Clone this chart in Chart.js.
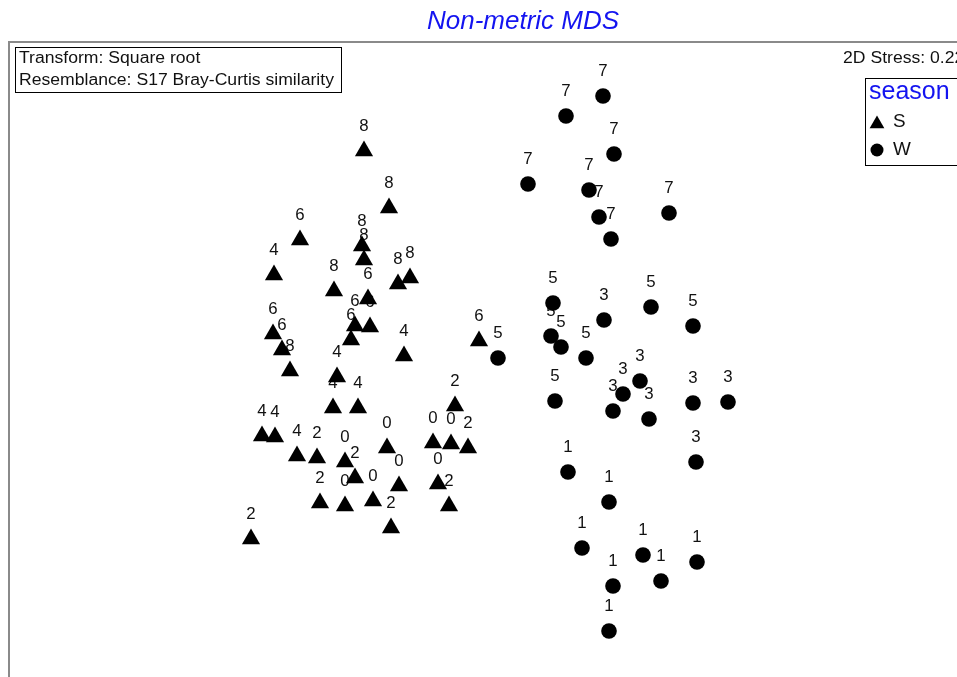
<!DOCTYPE html>
<html>
<head>
<meta charset="utf-8">
<script src="https://cdn.jsdelivr.net/npm/chart.js@4/dist/chart.umd.min.js"></script>
<style>
  body { margin:0; background:#fff; }
  #wrap { width:957px; height:677px; }
</style>
</head>
<body>
<div id="wrap"><canvas id="mds" width="957" height="677"></canvas></div>
<script>
// --------------------
// DATA (MDS coordinates, label = sample group)
// --------------------
// season S (triangles)
const sMds1 = [-1.16,-0.91,-1.80,-2.06,-1.18,-1.16,-1.46,-0.82,-0.70,-1.12,
               -1.25,-1.10,-1.29,-2.07,-1.98,-1.90,-0.76,-0.01,-1.43,-1.47,
               -1.22,-0.25,-2.18,-2.05,-1.83,-1.63,-1.35,-1.25,-0.93,-0.47,
               -0.29,-0.12,-0.81,-1.07,-1.60,-1.35,-0.42,-0.31,-0.89,-2.29];
const sMds2 = [ 2.09, 1.52, 1.20, 0.85, 1.14, 1.00, 0.69, 0.76, 0.82, 0.61,
                0.34, 0.33, 0.20, 0.26, 0.10,-0.11, 0.04, 0.19,-0.17,-0.48,
               -0.48,-0.46,-0.76,-0.77,-0.96,-0.98,-1.02,-1.18,-0.88,-0.83,
               -0.84,-0.88,-1.26,-1.41,-1.43,-1.46,-1.24,-1.46,-1.68,-1.79];
const sTags = ['8','8','6','4','8','8','8','8','8','6',
               '6','6','6','6','6','8','4','6','4','4',
               '4','2','4','4','4','2','0','2','0','0',
               '0','2','0','0','2','0','0','2','2','2'];

// season W (circles)
const wMds1 = [1.23,0.86,1.34,0.48,1.09,1.19,1.31,1.89,
               0.73,1.24,1.71,2.13,0.18,0.71,0.81,1.06,0.75,
               1.60,1.43,1.33,1.69,2.13,2.48,2.16,
               0.88,1.29,1.02,1.63,1.81,2.17,1.33,1.29];
const wMds2 = [2.64,2.44,2.06,1.76,1.70,1.43,1.21,1.47,
               0.57,0.40,0.53,0.34,0.02,0.24,0.13,0.02,-0.41,
               -0.21,-0.34,-0.51,-0.59,-0.43,-0.42,-1.02,
               -1.12,-1.42,-1.88,-1.95,-2.21,-2.02,-2.26,-2.71];
const wTags = ['7','7','7','7','7','7','7','7',
               '5','3','5','5','5','5','5','5','5',
               '3','3','3','3','3','3','3',
               '1','1','1','1','1','1','1','1'];

const seasons = ['S','W'];
const titleText = 'Non-metric MDS';
const noteLines = ['Transform: Square root','Resemblance: S17 Bray-Curtis similarity'];
const stressText = '2D Stress: 0.22';

function pts(xs, ys){ return xs.map((x,i)=>({x:x, y:ys[i]})); }

const FONT = '"Liberation Sans", Arial, sans-serif';
const BLUE = '#1414f0';

// text drawn slightly wide, like the original export
function wideText(ctx, txt, x, y, sx){
  ctx.save(); ctx.translate(x, y); ctx.scale(sx, 1); ctx.fillText(txt, 0, 0); ctx.restore();
}

// --------------------
// OVERLAY: frame, point labels, title, notes, legend
// --------------------
const overlay = {
  id:'overlay',
  beforeDatasetsDraw(chart){
    const ctx = chart.ctx, a = chart.chartArea;
    ctx.save();
    ctx.strokeStyle = '#8a8a8a'; ctx.lineWidth = 2;
    ctx.beginPath();
    ctx.moveTo(a.left, a.bottom+5); ctx.lineTo(a.left, a.top); ctx.lineTo(a.right+5, a.top);
    ctx.stroke();
    // sample labels sit above each marker (drawn under the markers)
    ctx.font = '16px '+FONT; ctx.fillStyle = '#111';
    ctx.textAlign = 'center'; ctx.textBaseline = 'middle';
    chart.data.datasets.forEach((ds,i)=>{
      chart.getDatasetMeta(i).data.forEach((p,j)=>{ wideText(ctx, ds.tags[j], p.x, p.y-24, 1.05); });
    });
    ctx.restore();
  },
  afterDraw(chart){
    const ctx = chart.ctx;
    ctx.save();
    // title
    ctx.fillStyle = BLUE; ctx.font = 'italic 26px '+FONT;
    ctx.textAlign = 'center'; ctx.textBaseline = 'middle';
    ctx.fillText(titleText, 523, 22);
    // transform / resemblance box
    ctx.strokeStyle = '#000'; ctx.lineWidth = 1;
    ctx.strokeRect(15.5, 47.5, 326, 45);
    ctx.fillStyle = '#111'; ctx.font = '16px '+FONT; ctx.textAlign = 'left';
    wideText(ctx, noteLines[0], 19, 59, 1.1);
    wideText(ctx, noteLines[1], 19, 81, 1.1);
    // stress
    wideText(ctx, stressText, 843, 59, 1.1);
    // legend
    ctx.strokeRect(865.5, 78.5, 130, 87);
    ctx.fillStyle = BLUE; ctx.font = '25px '+FONT;
    ctx.fillText('season', 869, 92);
    ctx.font = '18px '+FONT;
    chart.data.datasets.forEach((ds,i)=>{
      const y = 122 + i*28;
      ctx.fillStyle = '#000';
      Chart.helpers.drawPoint(ctx, {pointStyle: ds.pointStyle, radius: i===0 ? 8.5 : 6.5, borderWidth:0}, 877, y + (i===0 ? 2 : 0));
      ctx.fillStyle = '#111';
      wideText(ctx, ds.label, 893, y, 1.05);
    });
    ctx.restore();
  }
};

new Chart(document.getElementById('mds'), {
  type:'scatter',
  data:{ datasets:[
    { label:seasons[0], data:pts(sMds1,sMds2), tags:sTags, pointStyle:'triangle',
      pointRadius:10.5, backgroundColor:'#000', borderWidth:0 },
    { label:seasons[1], data:pts(wMds1,wMds2), tags:wTags, pointStyle:'circle',
      pointRadius:7.8, backgroundColor:'#000', borderWidth:0 }
  ]},
  options:{
    responsive:false, animation:false, devicePixelRatio:1,
    layout:{ autoPadding:false, padding:{ left:9, top:42, right:0, bottom:0 } },
    plugins:{ legend:{display:false}, tooltip:{enabled:false} },
    scales:{
      x:{ type:'linear', min:-4.71, max:4.77, display:false },
      y:{ type:'linear', min:-3.17, max:3.18, display:false }
    }
  },
  plugins:[overlay]
});
</script>
</body>
</html>
